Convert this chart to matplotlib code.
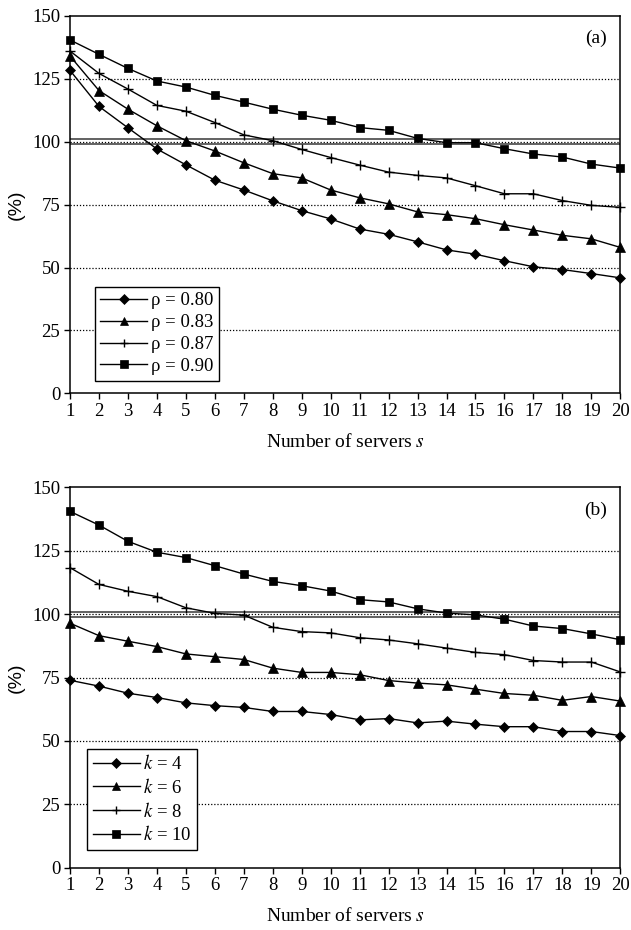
import matplotlib
matplotlib.use("Agg")
import matplotlib.pyplot as plt

plt.rcParams['font.family'] = ['Liberation Serif', 'DejaVu Serif']
plt.rcParams['mathtext.fontset'] = 'stix'

servers = list(range(1, 21))
tick_labels = [str(s) for s in servers]

# Panel (a)
rho_labels = ["ρ = 0.80", "ρ = 0.83", "ρ = 0.87", "ρ = 0.90"]
rho_080 = [128.3, 114.0, 105.5, 97.1, 90.8, 84.7, 80.8, 76.5, 72.6, 69.3,
           65.3, 63.2, 60.2, 57.0, 55.3, 52.7, 50.3, 49.2, 47.6, 45.9]
rho_083 = [134.0, 120.3, 112.9, 106.3, 100.4, 96.3, 91.6, 87.3, 85.6, 80.8,
           77.7, 75.3, 72.1, 71.0, 69.4, 67.0, 64.9, 62.8, 61.4, 58.0]
rho_087 = [136.0, 127.1, 120.9, 114.4, 112.1, 107.6, 102.7, 100.4, 96.9, 93.7,
           90.7, 87.9, 86.6, 85.6, 82.5, 79.3, 79.3, 76.6, 74.7, 73.9]
rho_090 = [140.4, 134.7, 129.1, 124.1, 121.7, 118.4, 115.7, 112.9, 110.5, 108.5,
           105.6, 104.5, 101.3, 99.6, 99.6, 97.2, 95.1, 93.9, 91.1, 89.5]

# Panel (b)
k_labels = ["$k$ = 4", "$k$ = 6", "$k$ = 8", "$k$ = 10"]
k_4 = [73.9, 71.6, 68.8, 67.1, 65.0, 63.9, 63.2, 61.6, 61.6, 60.4,
       58.3, 58.8, 57.1, 57.8, 56.6, 55.6, 55.6, 53.7, 53.7, 52.1]
k_6 = [96.4, 91.5, 89.3, 87.2, 84.3, 83.2, 82.1, 78.7, 77.0, 77.0,
       76.1, 73.8, 72.8, 72.1, 70.4, 68.7, 68.0, 66.0, 67.5, 65.7]
k_8 = [118.3, 111.7, 109.0, 106.9, 102.5, 100.3, 99.6, 94.8, 93.1, 92.6,
       90.7, 89.8, 88.3, 86.6, 84.9, 84.0, 81.7, 81.1, 81.1, 77.2]
k_10 = [140.5, 135.1, 128.7, 124.4, 122.3, 119.1, 115.8, 112.9, 111.2, 109.1,
        105.7, 104.8, 102.1, 100.4, 99.7, 98.0, 95.3, 94.3, 92.2, 89.9]

y_ticks = [0, 25, 50, 75, 100, 125, 150]
grid_levels = [25, 50, 75, 100, 125]
band = [99, 101]

markers = ['D', '^', '+', 's']
msizes = [5.5, 7, 7.5, 6.3]

fig = plt.figure(figsize=(6.31, 9.30), dpi=100)
ax1 = fig.add_axes([0.111, 0.577, 0.872, 0.406])
ax2 = fig.add_axes([0.111, 0.067, 0.872, 0.409])


def draw(ax, series, labels, tag, legend_loc):
    for g in grid_levels:
        ax.axhline(g, color='black', lw=0.9, ls=(0, (1, 1.5)), zorder=1)
    for b in band:
        ax.axhline(b, color='#555555', lw=1.3, zorder=1.5)
    for ys, lab, m, ms in zip(series, labels, markers, msizes):
        ax.plot(servers, ys, color='black', lw=1.0, marker=m, markersize=ms,
                markeredgewidth=1.0 if m == '+' else 0.5,
                markerfacecolor='black', markeredgecolor='black',
                label=lab, zorder=3, clip_on=False)
    ax.set_xlim(1, 20)
    ax.set_ylim(0, 150)
    ax.set_xticks(servers)
    ax.set_xticklabels(tick_labels)
    ax.set_yticks(y_ticks)
    ax.tick_params(axis='both', direction='out', length=4, width=1,
                   labelsize=13.5, pad=3)
    for sp in ax.spines.values():
        sp.set_linewidth(1.1)
        sp.set_color('black')
    ax.set_xlabel("Number of servers $s$", fontsize=14, labelpad=9)
    ax.set_ylabel("(%)", fontsize=14, family=['Liberation Sans'], labelpad=5)
    ax.text(0.975, 0.94, tag, transform=ax.transAxes, ha='right', va='center',
            fontsize=14)
    leg = ax.legend(loc='lower left', bbox_to_anchor=legend_loc,
                    fontsize=13.5, frameon=True, fancybox=False,
                    edgecolor='black', framealpha=1, handlelength=2.5,
                    handletextpad=0.2, borderpad=0.3, labelspacing=0.25,
                    borderaxespad=0, markerscale=0.85)
    leg.get_frame().set_linewidth(1.0)


draw(ax1, [rho_080, rho_083, rho_087, rho_090], rho_labels, "(a)", (0.045, 0.034))
draw(ax2, [k_4, k_6, k_8, k_10], k_labels, "(b)", (0.031, 0.047))

fig.savefig("out.png", dpi=100)
